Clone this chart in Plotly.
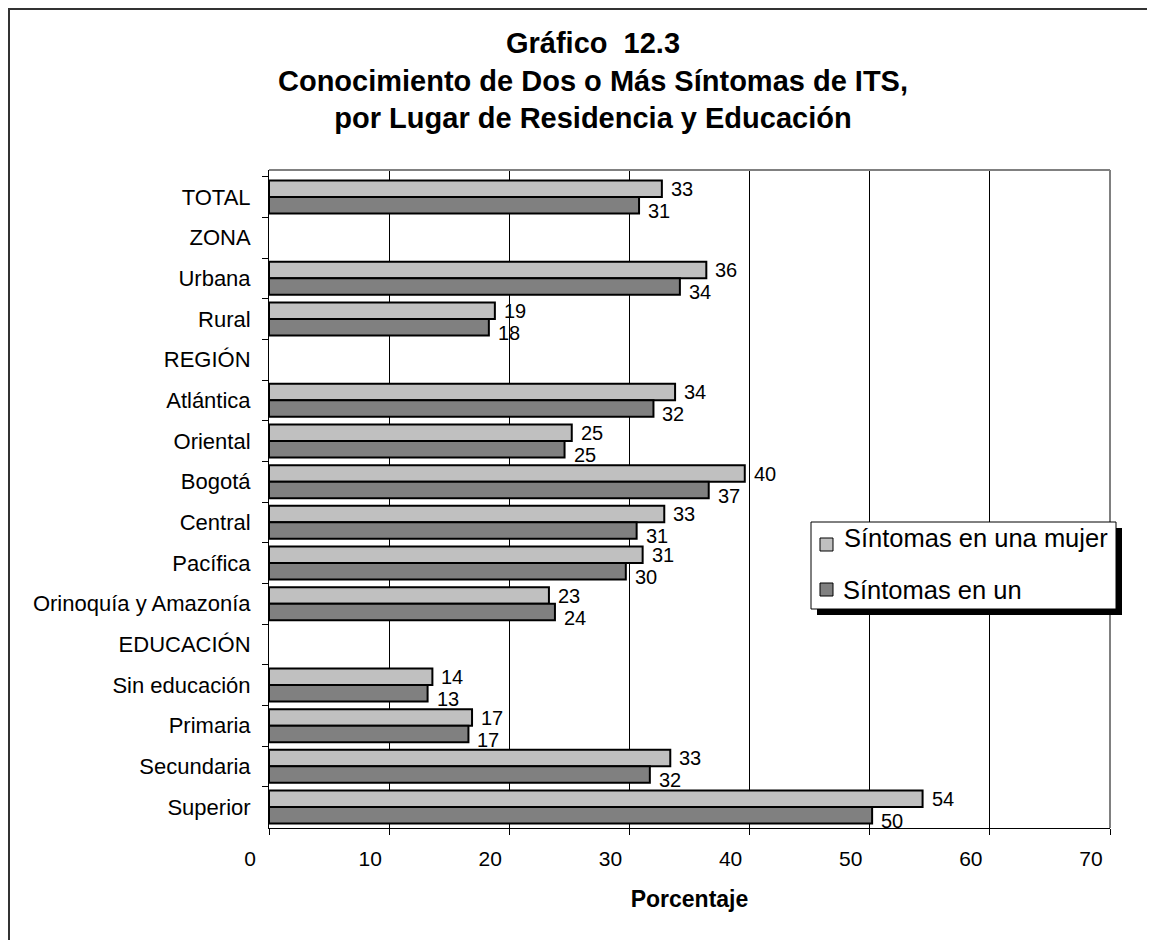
import plotly.graph_objects as go

# ---------------- data ----------------
categories = ["TOTAL", "ZONA", "Urbana", "Rural", "REGIÓN", "Atlántica", "Oriental",
              "Bogotá", "Central", "Pacífica", "Orinoquía y Amazonía", "EDUCACIÓN",
              "Sin educación", "Primaria", "Secundaria", "Superior"]
mujer = [32.7, None, 36.4, 18.8, None, 33.8, 25.2, 39.6, 32.9, 31.1, 23.3, None,
         13.6, 16.9, 33.4, 54.4]
hombre = [30.8, None, 34.2, 18.3, None, 32.0, 24.6, 36.6, 30.6, 29.7, 23.8, None,
          13.2, 16.6, 31.7, 50.2]
series_names = ["Síntomas en una mujer", "Síntomas en un hombre"]
x_ticks = [0, 10, 20, 30, 40, 50, 60, 70]

# ---------------- styling ----------------
FONT = "Arial, Liberation Sans, sans-serif"
LIGHT = "#C0C0C0"
DARK = "#808080"
W, H = 1155, 940
OFF = 8  # page body margin
# plot area in screen px
L, R, T, B = 269, 1110, 170, 828


def px_x(x):
    return (x - L) / (R - L)


def px_y(y):
    return (B - y) / (B - T)


fig = go.Figure()
fig.add_bar(y=categories, x=mujer, orientation="h", name=series_names[0],
            marker=dict(color=LIGHT, line=dict(color="black", width=2)),
            showlegend=False)
fig.add_bar(y=categories, x=hombre, orientation="h", name=series_names[1],
            marker=dict(color=DARK, line=dict(color="black", width=2)),
            showlegend=False)

annotations = []
for cat, v in zip(categories, mujer):
    if v is not None:
        annotations.append(dict(x=v, y=cat, xref="x", yref="y", text=f"{v:.0f}",
                                showarrow=False, xanchor="left", yanchor="middle",
                                xshift=7, yshift=8,
                                font=dict(family=FONT, size=20, color="black")))
for cat, v in zip(categories, hombre):
    if v is not None:
        annotations.append(dict(x=v, y=cat, xref="x", yref="y", text=f"{v:.0f}",
                                showarrow=False, xanchor="left", yanchor="middle",
                                xshift=7, yshift=-14,
                                font=dict(family=FONT, size=20, color="black")))

# legend (drawn manually to mimic the clipped box)
annotations.append(dict(x=px_x(842), y=px_y(538), xref="paper", yref="paper",
                        text=series_names[0], showarrow=False, xanchor="left",
                        yanchor="middle", align="left",
                        font=dict(family=FONT, size=25.5, color="black")))
annotations.append(dict(x=px_x(842), y=px_y(575), xref="paper", yref="paper",
                        text="Síntomas en un<br>hombre", showarrow=False,
                        xanchor="left", yanchor="top", align="left", valign="top",
                        height=33, borderpad=0,
                        font=dict(family=FONT, size=25.5, color="black")))

shapes = [
    # outer frame
    dict(type="rect", xref="paper", yref="paper", x0=px_x(OFF + 1), x1=px_x(1152),
         y0=px_y(990), y1=px_y(OFF + 1), line=dict(color="#333333", width=2),
         layer="below"),
    # plot area top & right border (grey)
    dict(type="line", xref="paper", yref="paper", x0=0, x1=1, y0=1, y1=1,
         line=dict(color="#808080", width=2), layer="above"),
    dict(type="line", xref="paper", yref="paper", x0=1, x1=1, y0=0, y1=1,
         line=dict(color="#808080", width=2), layer="above"),
    # legend shadow and box
    dict(type="rect", xref="paper", yref="paper", x0=px_x(817), x1=px_x(1122),
         y0=px_y(615), y1=px_y(528), fillcolor="black", line=dict(width=0),
         layer="above"),
    dict(type="rect", xref="paper", yref="paper", x0=px_x(811), x1=px_x(1116),
         y0=px_y(609), y1=px_y(522), fillcolor="white",
         line=dict(color="black", width=1), layer="above"),
    dict(type="rect", xref="paper", yref="paper", x0=px_x(820), x1=px_x(833),
         y0=px_y(551), y1=px_y(538), fillcolor=LIGHT,
         line=dict(color="black", width=1), layer="above"),
    dict(type="rect", xref="paper", yref="paper", x0=px_x(820), x1=px_x(833),
         y0=px_y(596), y1=px_y(583), fillcolor=DARK,
         line=dict(color="black", width=1), layer="above"),
]

fig.update_layout(
    width=W, height=H,
    margin=dict(l=L - OFF, r=W - (R - OFF), t=T - OFF, b=H - (B - OFF), pad=0),
    paper_bgcolor="white", plot_bgcolor="white",
    barmode="group", bargap=0.19, bargroupgap=0,
    font=dict(family=FONT, color="black"),
    title=dict(text="<b>Gráfico&nbsp; 12.3<br>Conocimiento de Dos o Más Síntomas de ITS,"
                    "<br>por Lugar de Residencia y Educación</b>",
               x=(593 - OFF) / W, xanchor="center", xref="container",
               y=1 - 45 / H, yanchor="top", yref="container",
               font=dict(family=FONT, size=29, color="black")),
    xaxis=dict(range=[0, 70], tickvals=x_ticks, showgrid=True, gridcolor="black",
               gridwidth=1, zeroline=False, showline=True, linecolor="black",
               linewidth=1, ticks="outside", ticklen=6, tickcolor="black",
               tickfont=dict(family=FONT, size=21, color="black"),
               ticklabelshift=-19, ticklabelstandoff=6,
               title=dict(text="<b>Porcentaje</b>", standoff=21,
                          font=dict(family=FONT, size=23, color="black"))),
    yaxis=dict(type="category", autorange="reversed", showgrid=False,
               showline=True, linecolor="black", linewidth=1, ticks="outside",
               tickson="boundaries", ticklen=6, tickcolor="black",
               ticklabelstandoff=13,
               tickfont=dict(family=FONT, size=22, color="black")),
    annotations=annotations,
    shapes=shapes,
)

fig.write_html("out.html")
